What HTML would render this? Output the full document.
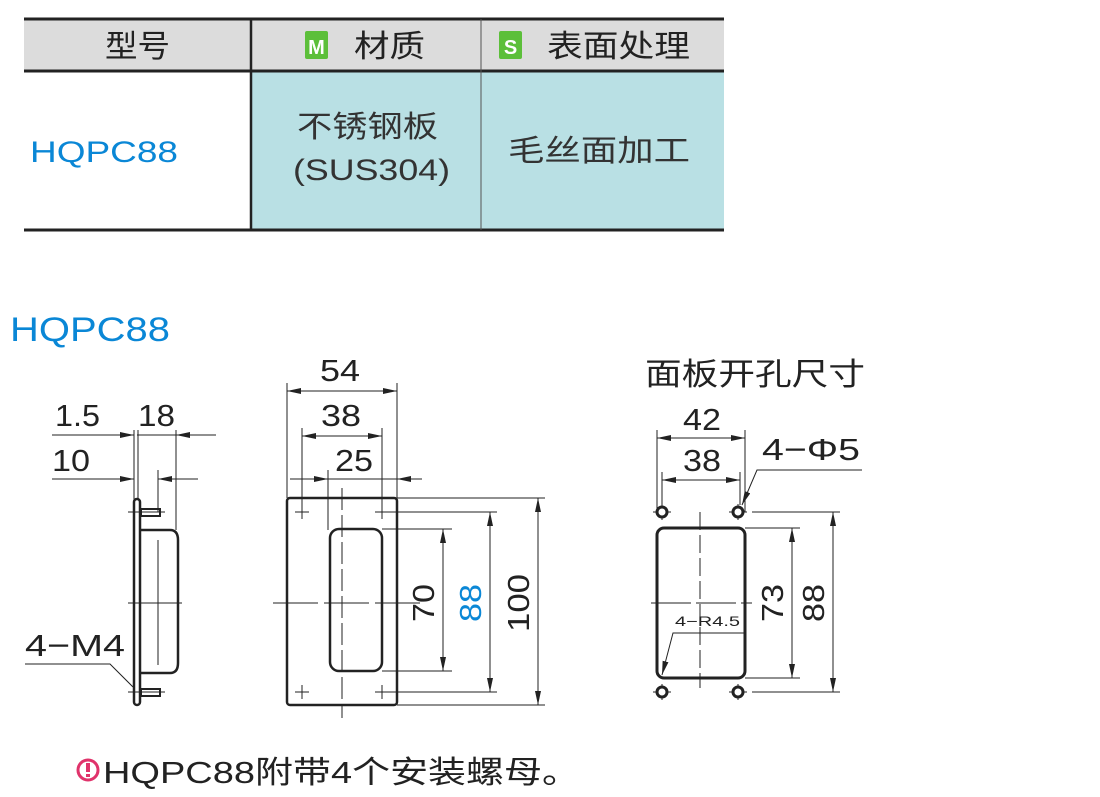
<!DOCTYPE html>
<html><head><meta charset="utf-8"><style>
html,body{margin:0;padding:0;background:#fff;}
svg{display:block}
text{font-family:"Liberation Sans","Noto Sans CJK SC",sans-serif;}
</style></head><body>
<svg width="1100" height="797" viewBox="0 0 1100 797" xmlns="http://www.w3.org/2000/svg">
<defs>
<marker id="a" viewBox="0 0 14 6" refX="14" refY="3" markerWidth="14" markerHeight="6" orient="auto-start-reverse" markerUnits="userSpaceOnUse"><path d="M0,0 L14,3 L0,6 z" fill="#222"/></marker>
</defs>
<rect x="24" y="18" width="700" height="52" fill="#dcdcdc"/>
<rect x="251" y="70" width="473" height="160" fill="#b9e0e4"/>
<line x1="24" y1="19" x2="724" y2="19" stroke="#222" stroke-width="3"/>
<line x1="24" y1="71" x2="724" y2="71" stroke="#222" stroke-width="3"/>
<line x1="24" y1="230" x2="724" y2="230" stroke="#222" stroke-width="3"/>
<line x1="251" y1="19" x2="251" y2="230" stroke="#222" stroke-width="2.5"/>
<line x1="481" y1="19" x2="481" y2="230" stroke="#555" stroke-width="1"/>
<g lengthAdjust="spacingAndGlyphs">
<text x="105" y="57" font-size="31" fill="#222" textLength="65" lengthAdjust="spacingAndGlyphs">型号</text>
<text x="354" y="57" font-size="31" fill="#222" textLength="71" lengthAdjust="spacingAndGlyphs">材质</text>
<text x="547" y="57" font-size="31" fill="#222" textLength="143" lengthAdjust="spacingAndGlyphs">表面处理</text>
<text x="30" y="162" font-size="30" fill="#0a87d6" textLength="148" lengthAdjust="spacingAndGlyphs">HQPC88</text>
<text x="297" y="137" font-size="30" fill="#333" textLength="141" lengthAdjust="spacingAndGlyphs">不锈钢板</text>
<text x="293" y="180" font-size="30" fill="#333" textLength="157" lengthAdjust="spacingAndGlyphs">(SUS304)</text>
<text x="508" y="161" font-size="30" fill="#333" textLength="182" lengthAdjust="spacingAndGlyphs">毛丝面加工</text>
<text x="10" y="341" font-size="34" fill="#0a87d6" textLength="160" lengthAdjust="spacingAndGlyphs">HQPC88</text>
<text x="645" y="385" font-size="31" fill="#222" textLength="220" lengthAdjust="spacingAndGlyphs">面板开孔尺寸</text>
</g>
<rect x="305" y="31" width="23" height="28" rx="2" fill="#5cbf3a"/>
<text x="316.5" y="54" font-size="20" text-anchor="middle" fill="#fff" font-weight="bold">M</text>
<rect x="499" y="31" width="23" height="28" rx="2" fill="#5cbf3a"/>
<text x="510.5" y="54" font-size="20" text-anchor="middle" fill="#fff" font-weight="bold">S</text>

<g stroke="#222" fill="none" stroke-width="1">
<line x1="52" y1="435" x2="134" y2="435" marker-end="url(#a)"/>
<line x1="176" y1="435" x2="216" y2="435" marker-start="url(#a)"/>
<line x1="137" y1="435" x2="176" y2="435"/>
<line x1="52" y1="479" x2="134" y2="479" marker-end="url(#a)"/>
<line x1="158" y1="479" x2="198" y2="479" marker-start="url(#a)"/>
<line x1="134" y1="430" x2="134" y2="500"/>
<line x1="138" y1="430" x2="138" y2="500"/>
<line x1="176" y1="430" x2="176" y2="530"/>
<line x1="158" y1="470" x2="158" y2="512"/>
<rect x="134" y="499" width="6" height="206" rx="3" stroke-width="2.5"/>
<rect x="141" y="509" width="19" height="7" stroke-width="2"/>
<rect x="141" y="689" width="19" height="7" stroke-width="2"/>
<path d="M140,530 H170 Q178,530 178,540 V663 Q178,673 170,673 H140" stroke-width="2.5"/>
<line x1="158" y1="540" x2="158" y2="665"/>
<line x1="128" y1="603" x2="182" y2="603"/>
<line x1="128" y1="512" x2="165" y2="512"/>
<line x1="128" y1="692" x2="165" y2="692"/>
<polyline points="25,664 110,664 133,687"/>
<line x1="287" y1="383" x2="287" y2="498"/>
<line x1="397" y1="383" x2="397" y2="498"/>
<line x1="287" y1="391" x2="397" y2="391" marker-start="url(#a)" marker-end="url(#a)"/>
<line x1="302" y1="428" x2="302" y2="512"/>
<line x1="382" y1="428" x2="382" y2="512"/>
<line x1="302" y1="436" x2="382" y2="436" marker-start="url(#a)" marker-end="url(#a)"/>
<line x1="328" y1="470" x2="328" y2="530"/>
<line x1="290" y1="479" x2="328" y2="479" marker-end="url(#a)"/>
<line x1="397" y1="479" x2="422" y2="479" marker-start="url(#a)"/>
<line x1="328" y1="479" x2="397" y2="479"/>
<rect x="287" y="498" width="110" height="207" rx="3" stroke-width="2.5"/>
<rect x="330" y="529" width="52" height="142" rx="9" stroke-width="2.5"/>
<line x1="342" y1="488" x2="342" y2="718" stroke-dasharray="22,5"/>
<line x1="273" y1="603" x2="420" y2="603" stroke-dasharray="45,6"/>
<path d="M295,512 h14 M302,505 v14 M375,512 h14 M382,505 v14 M295,692 h14 M302,685 v14 M375,692 h14 M382,685 v14"/>
<line x1="382" y1="529" x2="452" y2="529"/>
<line x1="382" y1="671" x2="452" y2="671"/>
<line x1="443" y1="529" x2="443" y2="671" marker-start="url(#a)" marker-end="url(#a)"/>
<line x1="389" y1="512" x2="497" y2="512"/>
<line x1="389" y1="692" x2="497" y2="692"/>
<line x1="490" y1="512" x2="490" y2="692" marker-start="url(#a)" marker-end="url(#a)"/>
<line x1="397" y1="498" x2="545" y2="498"/>
<line x1="397" y1="705" x2="545" y2="705"/>
<line x1="538" y1="498" x2="538" y2="705" marker-start="url(#a)" marker-end="url(#a)"/>
<line x1="657" y1="430" x2="657" y2="512"/>
<line x1="745" y1="430" x2="745" y2="512"/>
<line x1="657" y1="438" x2="745" y2="438" marker-start="url(#a)" marker-end="url(#a)"/>
<line x1="662" y1="472" x2="662" y2="505"/>
<line x1="740" y1="472" x2="740" y2="505"/>
<line x1="662" y1="480" x2="740" y2="480" marker-start="url(#a)" marker-end="url(#a)"/>
<rect x="657" y="528" width="88" height="150" rx="7" stroke-width="3"/>
<line x1="700" y1="512" x2="700" y2="688" stroke-dasharray="18,5"/>
<line x1="651" y1="603" x2="752" y2="603" stroke-dasharray="40,5"/>
<path d="M653,512 h18 M662,504 v16 M729,512 h18 M738,504 v16 M653,692 h18 M662,684 v16 M729,692 h18 M738,684 v16"/>
<line x1="745" y1="528" x2="800" y2="528"/>
<line x1="745" y1="678" x2="800" y2="678"/>
<line x1="792" y1="528" x2="792" y2="678" marker-start="url(#a)" marker-end="url(#a)"/>
<line x1="752" y1="512" x2="840" y2="512"/>
<line x1="752" y1="692" x2="840" y2="692"/>
<line x1="833" y1="512" x2="833" y2="692" marker-start="url(#a)" marker-end="url(#a)"/>
<polyline points="862,470 757,470 742,505" marker-end="url(#a)"/>
<polyline points="745,633 673,633 662,675" marker-end="url(#a)"/>
</g>
<g>
<circle cx="662" cy="512" r="5" fill="#fff" stroke="#222" stroke-width="3"/>
<circle cx="738" cy="512" r="5" fill="#fff" stroke="#222" stroke-width="3"/>
<circle cx="662" cy="692" r="5" fill="#fff" stroke="#222" stroke-width="3"/>
<circle cx="738" cy="692" r="5" fill="#fff" stroke="#222" stroke-width="3"/>
</g>
<g fill="#222" font-size="31">
<text x="55" y="426" textLength="45" lengthAdjust="spacingAndGlyphs">1.5</text>
<text x="138" y="426" textLength="37" lengthAdjust="spacingAndGlyphs">18</text>
<text x="52" y="471" textLength="38" lengthAdjust="spacingAndGlyphs">10</text>
<text x="25" y="656" textLength="100" lengthAdjust="spacingAndGlyphs">4−M4</text>
<text x="320" y="381" textLength="40" lengthAdjust="spacingAndGlyphs">54</text>
<text x="321" y="426" textLength="40" lengthAdjust="spacingAndGlyphs">38</text>
<text x="335" y="471" textLength="38" lengthAdjust="spacingAndGlyphs">25</text>
<text transform="translate(434,622) rotate(-90)" textLength="38" lengthAdjust="spacingAndGlyphs">70</text>
<text transform="translate(481,622) rotate(-90)" fill="#0a87d6" textLength="38" lengthAdjust="spacingAndGlyphs">88</text>
<text transform="translate(529,632) rotate(-90)" textLength="58" lengthAdjust="spacingAndGlyphs">100</text>
<text x="683" y="430" textLength="38" lengthAdjust="spacingAndGlyphs">42</text>
<text x="683" y="471" textLength="38" lengthAdjust="spacingAndGlyphs">38</text>
<text x="762" y="460" textLength="98" lengthAdjust="spacingAndGlyphs">4−Φ5</text>
<text transform="translate(783,622) rotate(-90)" textLength="38" lengthAdjust="spacingAndGlyphs">73</text>
<text transform="translate(824,622) rotate(-90)" textLength="38" lengthAdjust="spacingAndGlyphs">88</text>
<text x="675" y="626" font-size="14" textLength="65" lengthAdjust="spacingAndGlyphs">4−R4.5</text>
</g>
<circle cx="88" cy="770" r="10" fill="none" stroke="#e0336b" stroke-width="3"/>
<rect x="86" y="763" width="4" height="9" fill="#e0336b"/>
<rect x="86" y="774" width="4" height="3" fill="#e0336b"/>
<text x="103" y="783" font-size="31" fill="#222" textLength="477" lengthAdjust="spacingAndGlyphs">HQPC88附带4个安装螺母。</text>
</svg>
</body></html>
